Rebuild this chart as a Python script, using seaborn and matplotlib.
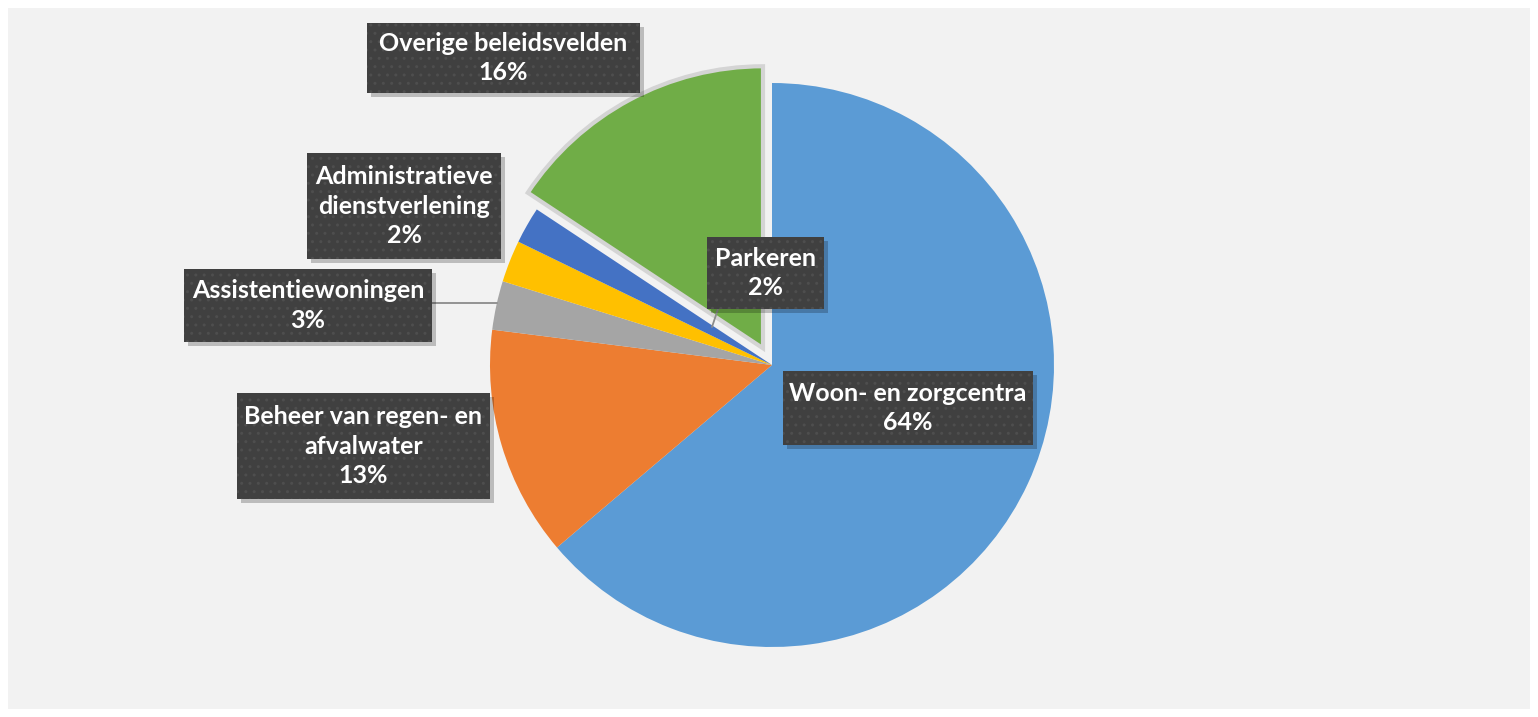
import matplotlib
matplotlib.use("Agg")
import matplotlib.pyplot as plt
import seaborn as sns
from matplotlib.patches import Rectangle

# =========================
# Data
# =========================
categories = [
    "Woon- en zorgcentra",
    "Beheer van regen- en\nafvalwater",
    "Assistentiewoningen",
    "Parkeren",
    "Administratieve\ndienstverlening",
    "Overige beleidsvelden",
]
shares = [63.8, 13.2, 2.8, 2.4, 2.1, 15.7]
pct_labels = ["64%", "13%", "3%", "2%", "2%", "16%"]
colors = ["#5B9BD5", "#ED7D31", "#A5A5A5", "#FFC000", "#4472C4", "#70AD47"]

# =========================
# Layout (pixel coords, y from top)
# =========================
W, H = 1538, 717
pie_center = (772, 365)
pie_radius = 282
explode = [0, 0, 0, 0, 0, 19]
label_boxes = [
    (783, 371, 1033, 445),
    (237, 393, 490, 499),
    (184, 269, 432, 342),
    (707, 237, 824, 309),
    (307, 153, 501, 259),
    (367, 23, 640, 93),
]
leaders = [
    ((432, 303), (497, 303)),
    ((718, 309), (712, 327)),
]

sns.set_style("white")
plt.rcParams["font.family"] = ["Lato", "DejaVu Sans"]

fig = plt.figure(figsize=(W / 100, H / 100), dpi=100, facecolor="white")
fig.patches.append(Rectangle((8 / W, 8 / H), (W - 16) / W, (H - 16) / H,
                             transform=fig.transFigure, facecolor="#f2f2f2",
                             edgecolor="none", zorder=-10))
ax = fig.add_axes([0, 0, 1, 1])
ax.patch.set_alpha(0)


def fy(py):
    return H - py


wedges, _ = ax.pie(shares, colors=colors, startangle=90, counterclock=False,
                   center=(pie_center[0], fy(pie_center[1])), radius=pie_radius,
                   explode=explode, wedgeprops=dict(linewidth=0))
wedges[5].set_edgecolor("#d4d4d4")
wedges[5].set_linewidth(3)
wedges[5].set_zorder(0.5)

ax.set_xlim(0, W)
ax.set_ylim(0, H)
ax.set_aspect("equal")
ax.axis("off")

# leader lines
for (x0, y0), (x1, y1) in leaders:
    ax.plot([x0, x1], [fy(y0), fy(y1)], color="#8c8c8c", lw=1.3, zorder=2)

# label boxes
for name, pct, (x0, y0, x1, y1) in zip(categories, pct_labels, label_boxes):
    w, h = x1 - x0, y1 - y0
    ax.add_patch(Rectangle((x0 + 4, fy(y1) - 4), w, h, facecolor="black",
                           alpha=0.22, edgecolor="none", zorder=3))
    ax.add_patch(Rectangle((x0, fy(y1)), w, h, facecolor="#404040",
                           edgecolor="none", zorder=4))
    ax.add_patch(Rectangle((x0, fy(y1)), w, h, facecolor="none",
                           edgecolor="#4e4e4e", hatch="..", lw=0, zorder=4.5))
    ax.text((x0 + x1) / 2, fy((y0 + y1) / 2), f"{name}\n{pct}",
            ha="center", va="center", color="white", fontsize=18,
            fontweight="bold", linespacing=1.32, zorder=5)

fig.savefig("out.png", dpi=100, facecolor=fig.get_facecolor())
